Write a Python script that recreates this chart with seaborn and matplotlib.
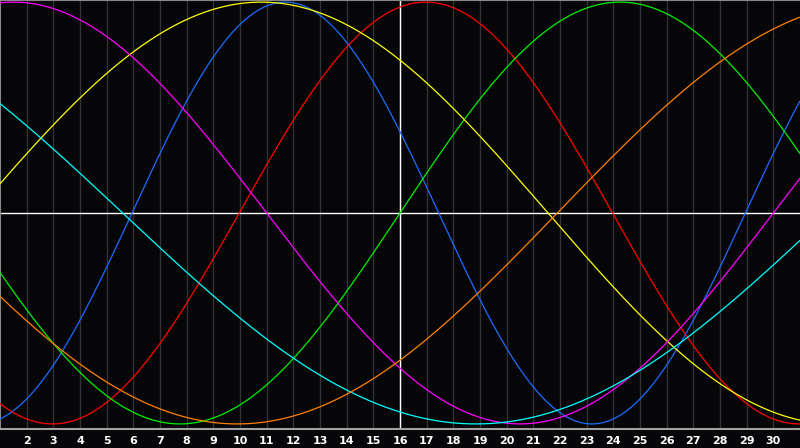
import numpy as np
import pandas as pd
import seaborn as sns
import matplotlib.pyplot as plt

# biorhythm cycles: period (days) and day of upward zero crossing
cycles = ['Physical', 'Emotional', 'Intellectual', 'Aesthetic', 'Intuitive', 'Spiritual', 'Awareness']
periods = [23, 28, 33, 43, 38, 53, 48]
zero_days = [5.95, 9.97, 16.0, 0.05, -8.0, -20.9, 21.9]
colors = ['#1a6cff', '#ff0000', '#00f000', '#ffff00', '#ff00ff', '#00ffff', '#ff8000']

days = list(range(2, 31))
today = 16

# Build long-form table for seaborn
t = np.linspace(1, 31, 1200)
rows = []
for name, p, z in zip(cycles, periods, zero_days):
    rows.append(pd.DataFrame({'day': t, 'value': np.sin(2 * np.pi * (t - z) / p), 'cycle': name}))
df = pd.concat(rows, ignore_index=True)

sns.set_style('dark')
bg = '#060609'
fig = plt.figure(figsize=(8, 4.48), dpi=100, facecolor=bg)
ax = fig.add_axes([0, 429 / 448 * 0 + 19 / 448, 1, 429 / 448])
ax.set_facecolor(bg)

# day grid
for d in days:
    ax.axvline(d, color='#333336', lw=1, zorder=1)
ax.axvline(today, color='white', lw=1, zorder=2)
ax.axhline(0, color='white', lw=1, zorder=2)

sns.lineplot(data=df, x='day', y='value', hue='cycle', palette=dict(zip(cycles, colors)),
             linewidth=0.9, legend=False, ax=ax, zorder=3)

ax.set_xlim(1, 31)
ax.set_ylim(-1.024, 1.01)
ax.set_xticks(days)
ax.set_xticklabels([str(d) for d in days], color='white', fontsize=8, fontweight='bold')
ax.set_yticks([])
ax.tick_params(axis='x', length=0, pad=5)
ax.set_xlabel('')
ax.set_ylabel('')
ax.grid(False)

for s in ['left', 'top']:
    ax.spines[s].set_visible(True)
    ax.spines[s].set_color('#888888')
    ax.spines[s].set_linewidth(1.5)
ax.spines['bottom'].set_visible(True)
ax.spines['bottom'].set_color('#a0a0a0')
ax.spines['bottom'].set_linewidth(1.5)
ax.spines['right'].set_visible(False)

fig.savefig('out.png', dpi=100, facecolor=bg)
